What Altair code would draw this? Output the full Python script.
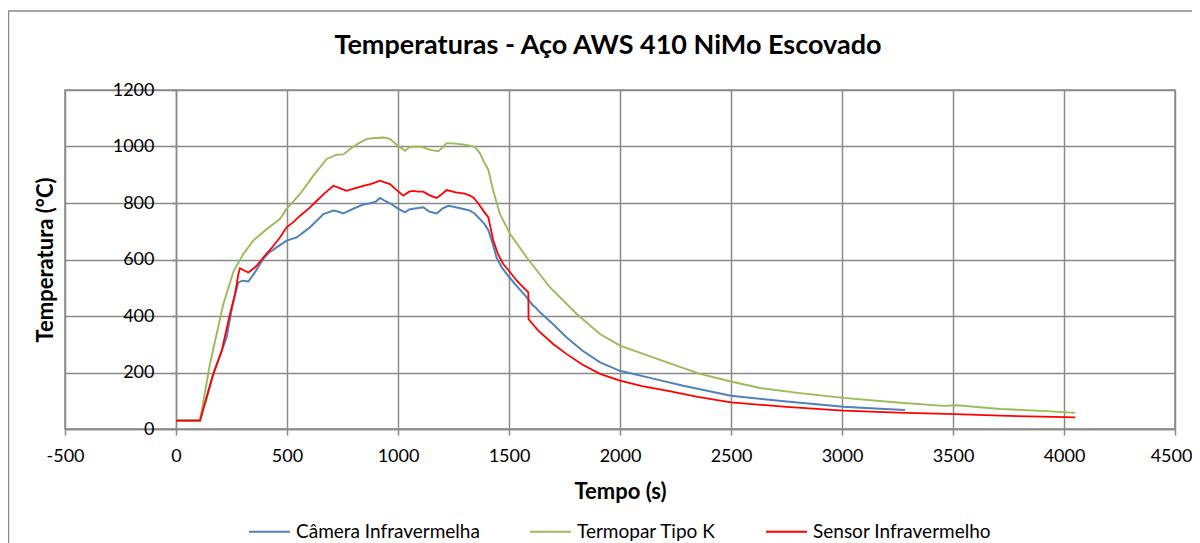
import altair as alt
import pandas as pd

# ---- data ----
camera_t = [0, 50, 108, 168, 206, 228, 250, 266, 281, 300, 326, 360, 393, 420, 453, 498, 543, 575, 604, 635, 664, 709, 730, 754, 785, 814, 845, 874, 900, 919, 940, 964, 1000, 1032, 1050, 1069, 1090, 1114, 1140, 1174, 1200, 1227, 1260, 1300, 1324, 1345, 1369, 1390, 1407, 1425, 1444, 1465, 1489, 1530, 1580, 1605, 1620, 1632, 1700, 1760, 1830, 1910, 2000, 2140, 2285, 2500, 2750, 3006, 3150, 3284]
camera_v = [30, 30, 30, 195, 277, 324, 420, 478, 519, 525, 522, 560, 602, 625, 643, 667, 678, 697, 714, 738, 761, 773, 770, 763, 775, 785, 795, 799, 805, 818, 808, 799, 780, 767, 777, 780, 782, 785, 770, 763, 780, 790, 785, 778, 773, 763, 743, 725, 704, 660, 607, 575, 549, 510, 466, 440, 430, 419, 370, 324, 278, 236, 206, 180, 153, 118, 97, 79, 73, 67]

termopar_t = [0, 50, 108, 153, 213, 260, 303, 348, 409, 468, 498, 559, 619, 679, 724, 754, 784, 820, 859, 900, 934, 964, 994, 1032, 1050, 1069, 1100, 1114, 1144, 1182, 1200, 1219, 1260, 1300, 1324, 1347, 1370, 1384, 1407, 1429, 1459, 1505, 1580, 1685, 1805, 1910, 2000, 2180, 2360, 2500, 2631, 2800, 3006, 3250, 3456, 3517, 3712, 3900, 4050]
termopar_v = [30, 30, 30, 230, 442, 560, 619, 667, 708, 743, 779, 832, 897, 956, 971, 972, 991, 1010, 1027, 1030, 1032, 1027, 1006, 985, 997, 999, 999, 997, 988, 983, 997, 1012, 1010, 1006, 1003, 998, 975, 950, 917, 843, 761, 690, 607, 501, 407, 336, 295, 245, 195, 168, 145, 128, 110, 94, 82, 84, 71, 64, 57]

sensor_t = [0, 50, 108, 168, 206, 243, 266, 281, 288, 305, 326, 360, 393, 430, 468, 498, 530, 559, 600, 634, 670, 709, 740, 769, 800, 844, 880, 919, 940, 964, 990, 1024, 1050, 1069, 1090, 1114, 1140, 1174, 1200, 1219, 1260, 1300, 1324, 1339, 1360, 1384, 1407, 1429, 1450, 1474, 1505, 1535, 1560, 1587, 1588, 1610, 1632, 1700, 1760, 1830, 1910, 2000, 2100, 2210, 2350, 2500, 2750, 3006, 3250, 3509, 3712, 3900, 4050]
sensor_v = [30, 30, 30, 195, 277, 407, 478, 549, 569, 562, 554, 575, 607, 640, 678, 714, 733, 755, 782, 808, 835, 861, 852, 843, 851, 861, 868, 879, 873, 867, 848, 826, 840, 843, 840, 840, 828, 818, 833, 846, 838, 833, 826, 820, 800, 773, 749, 667, 620, 584, 555, 525, 505, 484, 389, 368, 348, 300, 265, 228, 195, 171, 152, 136, 114, 94, 78, 65, 58, 53, 47, 44, 41]

series_names = ["Câmera Infravermelha", "Termopar Tipo K", "Sensor Infravermelho"]
series_colors = ["#4F81BD", "#9BBB59", "#FF0000"]
series_widths = [2, 1.8, 3.5]
x_ticks = [-500, 0, 500, 1000, 1500, 2000, 2500, 3000, 3500, 4000, 4500]
y_ticks = [0, 200, 400, 600, 800, 1000, 1200]

frames = []
for name, ts, vs in zip(series_names, [camera_t, termopar_t, sensor_t], [camera_v, termopar_v, sensor_v]):
    frames.append(pd.DataFrame({"serie": name, "t": ts, "temp": vs, "i": range(len(ts))}))
df = pd.concat(frames, ignore_index=True)

GRID = "#8a8a8a"
FONT = "Lato"

lines = alt.Chart(df).mark_line().encode(
    x=alt.X("t:Q",
            scale=alt.Scale(domain=[-500, 4500], nice=False, zero=False),
            axis=alt.Axis(values=x_ticks, title="Tempo (s)", labelExpr="'' + datum.value",
                          grid=True, gridColor=GRID, gridWidth=1.5,
                          domainColor=GRID, domainWidth=1.5, tickColor=GRID, tickWidth=1.5, tickSize=6,
                          labelFont=FONT, labelFontSize=18, labelColor="black", labelPadding=12,
                          labelOffset={"condition": {"test": "datum.value == 4500", "value": -4}, "value": 0},
                          titleFont=FONT, titleFontSize=22, titleFontWeight="bold", titleColor="black",
                          titlePadding=16, labelFlush=False, labelOverlap=False)),
    y=alt.Y("temp:Q",
            scale=alt.Scale(domain=[0, 1200], nice=False),
            axis=alt.Axis(values=y_ticks, title="Temperatura (°C)", offset=-111,
                          labelExpr="'' + datum.value",
                          grid=True, gridColor=GRID, gridWidth=1.5,
                          domainColor=GRID, domainWidth=1.5, tickColor=GRID, tickWidth=1.5, tickSize=5,
                          labelFont=FONT, labelFontSize=18, labelColor="black", labelPadding=17,
                          titleFont=FONT, titleFontSize=22, titleFontWeight="bold", titleColor="black",
                          titleX=-131, titleY=169.5, titleBaseline="middle", titleAngle=270,
                          labelFlush=False, labelOverlap=False)),
    color=alt.Color("serie:N",
                    scale=alt.Scale(domain=series_names, range=series_colors),
                    legend=alt.Legend(title=None, orient="none", direction="horizontal",
                                      legendX=183, legendY=420,
                                      symbolType="stroke", symbolSize=1681, symbolStrokeWidth=2.5,
                                      labelFont=FONT, labelFontSize=19, labelColor="black",
                                      labelLimit=400, labelOffset=5, columnPadding=46)),
    strokeWidth=alt.StrokeWidth("serie:N", scale=alt.Scale(domain=series_names, range=series_widths), legend=None),
    order=alt.Order("i:Q"),
)

border = alt.Chart(pd.DataFrame({"a": [0]})).mark_rect(fillOpacity=0, stroke=GRID, strokeWidth=1.5).encode(
    x=alt.value(-56.5), y=alt.value(-79), x2=alt.value(1400), y2=alt.value(800)
)

chart = alt.layer(border, lines).properties(
    width=1110, height=339,
    title=alt.TitleParams("Temperaturas - Aço AWS 410 NiMo Escovado", font=FONT, fontSize=27,
                          fontWeight="bold", color="black", anchor="middle", frame="group",
                          offset=-50, dx=-12),
    autosize=alt.AutoSizeParams(type="none"),
    padding={"left": 57, "top": 82, "right": 17, "bottom": 125},
).configure_view(stroke=GRID, strokeWidth=1.5)

chart.save("out.html", embed_options={"renderer": "svg", "actions": False})
